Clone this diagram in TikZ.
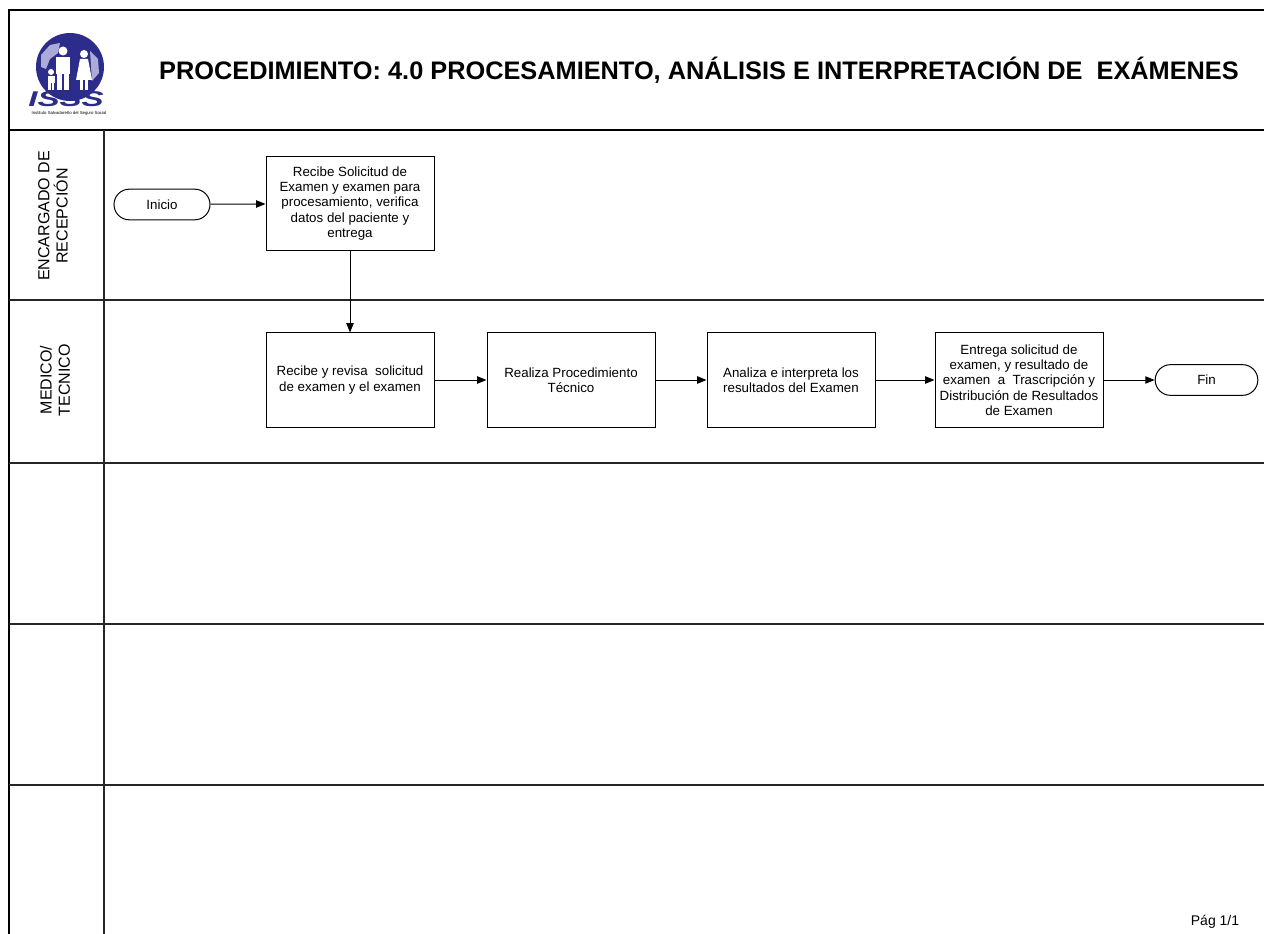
\documentclass[tikz,border=0pt]{standalone}
\usepackage{fontspec}
\setmainfont{Liberation Sans}
\usetikzlibrary{arrows.meta}

\definecolor{isssblue}{RGB}{44,44,138}
\definecolor{isssmap}{RGB}{170,172,215}

\tikzset{
  procbox/.style={draw, line width=0.75pt, minimum width=126pt, minimum height=70.5pt, align=center, inner sep=2pt, font=\fontsize{10}{11.5}\selectfont},
  termbox/.style={draw, line width=0.75pt, rounded corners=11.5pt, minimum height=23pt, align=center, font=\fontsize{10}{11.5}\selectfont},
  flow/.style={line width=0.75pt, -{Triangle[length=7pt,width=5.5pt]}},
  lanetext/.style={rotate=90, align=center, font=\fontsize{12}{13.75}\selectfont},
  laneline/.style={line width=1pt, color=black!85}
}

\begin{document}
\begin{tikzpicture}[x=0.75pt,y=0.75pt,yscale=-1,xscale=1]
\useasboundingbox (0,0) rectangle (1264,934);

%Shape: Frame
\draw [line width=1.1pt] (9,934) -- (9,10) -- (1264,10) ;
\draw [line width=2pt] (9,130) -- (1264,130) ;
\draw [laneline] (104,130) -- (104,934) ;
%Lanes
\foreach \y in {300,463,624,785}
  \draw [laneline] (9,\y) -- (1264,\y) ;

%Shape: Logo
\fill [isssblue] (70,67) circle (34) ;
\fill [isssmap] (41,55) -- (50,45) -- (60,43) -- (58,53) -- (50,59) -- (46,69) -- (41,67) -- cycle ;
\fill [isssmap] (90,51) -- (98,59) -- (99,73) -- (92,81) -- cycle ;
\fill [white] (63,51) circle (4.5) ;
\fill [white] (56,57) rectangle (70,74) ;
\fill [white] (57,74) rectangle (62,90) ;
\fill [white] (64,74) rectangle (69,90) ;
\fill [white] (84,54) circle (4) ;
\fill [white] (80,59) -- (88,59) -- (92,80) -- (76,80) -- cycle ;
\fill [white] (80,80) rectangle (83,90) ;
\fill [white] (85,80) rectangle (88,90) ;
\fill [white] (51,72) circle (3) ;
\fill [white] (47.5,76) rectangle (54.5,83) ;
\fill [white] (48,83) rectangle (50.5,90) ;
\fill [white] (51.5,83) rectangle (54,90) ;

% Text Node
\node (isss) at (66,99) [inner sep=0pt, xscale=1.55, text=isssblue, font=\fontsize{16}{16}\selectfont\bfseries\itshape] {ISSS};
\node (instituto) at (69,113) [inner sep=0pt, font=\fontsize{3.2}{4}\selectfont] {Instituto Salvadoreño del Seguro Social};

% Text Node
\node (titulo) at (699,70) [inner sep=0pt, font=\fontsize{19}{22}\selectfont\bfseries] {PROCEDIMIENTO: 4.0 PROCESAMIENTO, ANÁLISIS E INTERPRETACIÓN DE \ EXÁMENES};

%Lane labels
\node (recepcion) at (53,216) [lanetext] {ENCARGADO DE\\RECEPCIÓN};
\node (medico) at (55,380) [lanetext] {MEDICO/\\TECNICO};

%Flow
\node (inicio) at (162,204.5) [termbox, minimum width=72pt] {Inicio};
\node (recibe) at (350,203.5) [procbox] {Recibe Solicitud de\\Examen y examen para\\procesamiento, verifica\\datos del paciente y\\entrega};
\node (revisa) at (350,380) [procbox] {Recibe y revisa \ solicitud\\de examen y el examen};
\node (realiza) at (571,380) [procbox] {Realiza Procedimiento\\Técnico};
\node (analiza) at (791,380) [procbox] {Analiza e interpreta los\\resultados del Examen};
\node (entrega) at (1019,380) [procbox] {Entrega solicitud de\\examen, y resultado de\\examen \ a \ Trascripción y\\Distribución de Resultados\\de Examen};
\node (fin) at (1206.5,380) [termbox, minimum width=77pt] {Fin};

\draw [flow] (inicio) -- (recibe) ;
\draw [flow] (recibe) -- (revisa) ;
\draw [flow] (revisa) -- (realiza) ;
\draw [flow] (realiza) -- (analiza) ;
\draw [flow] (analiza) -- (entrega) ;
\draw [flow] (entrega) -- (fin) ;

% Text Node
\node (pagina) at (1215,922) [inner sep=0pt, font=\fontsize{10.5}{12}\selectfont] {Pág 1/1};

\end{tikzpicture}
\end{document}
